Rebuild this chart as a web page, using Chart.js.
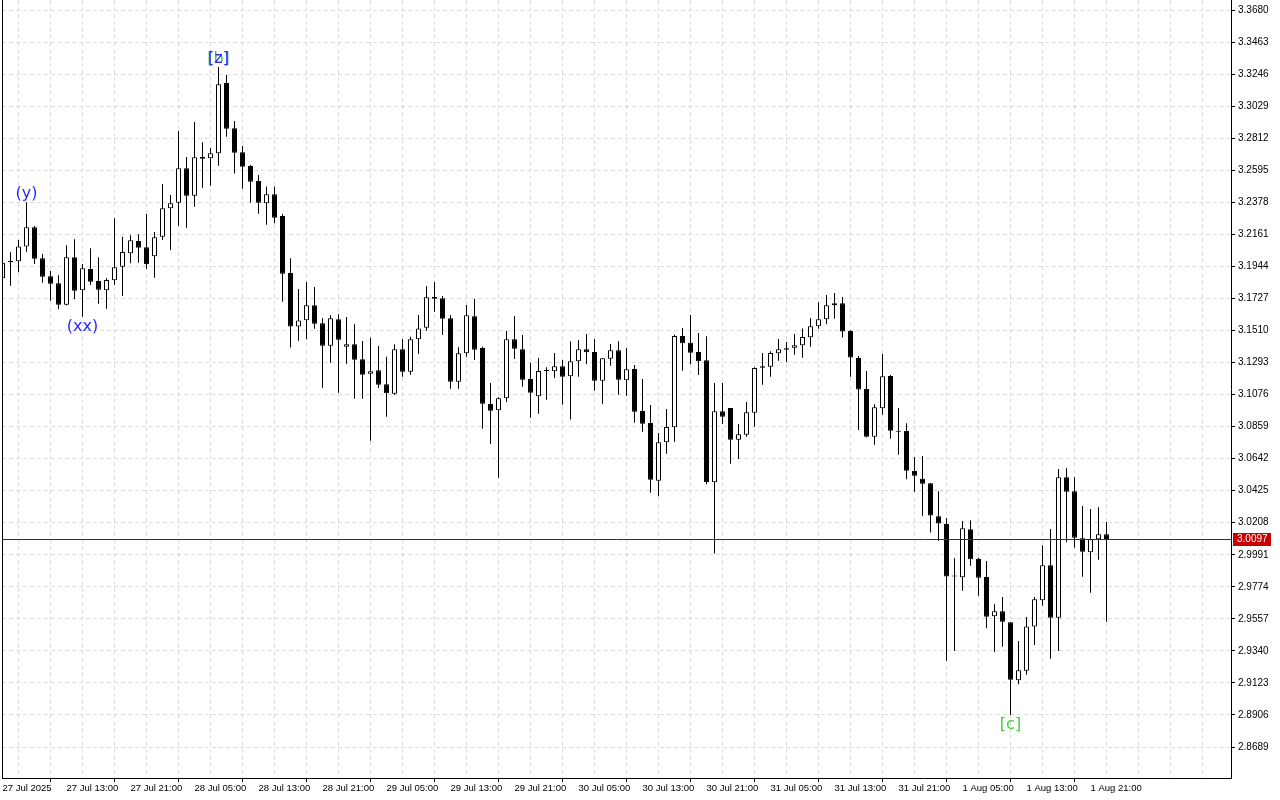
<!DOCTYPE html>
<html>
<head>
<meta charset="utf-8">
<script src="https://cdn.jsdelivr.net/npm/chart.js@4.4.1/dist/chart.umd.min.js"></script>
<style>
html,body{margin:0;padding:0;background:#ffffff;overflow:hidden;}
#wrap{width:1280px;height:800px;position:relative;}
</style>
</head>
<body>
<div id="wrap"><canvas id="c" width="1280" height="800"></canvas></div>
<script>
// ---- data (hourly candles) ----
const opens = [3.1863,3.1982,3.1978,3.2079,3.2209,3.1999,3.1877,3.1829,3.1684,3.2005,
3.1782,3.1926,3.1845,3.1782,3.1850,3.1942,3.2032,3.2116,3.2074,3.2012,
3.2145,3.2337,3.2374,3.2608,3.2422,3.2685,3.2676,3.2710,3.3186,3.2879,
3.2716,3.2624,3.2522,3.2371,3.2432,3.2285,3.1899,3.1537,3.1579,3.1680,
3.1558,3.1407,3.1586,3.1400,3.1416,3.1315,3.1217,3.1240,3.1145,3.1082,
3.1382,3.1231,3.1450,3.1528,3.1736,3.1728,3.1592,3.1163,3.1355,3.1606,
3.1391,3.1012,3.0969,3.1051,3.1450,3.1382,3.1181,3.1064,3.1235,3.1233,
3.1267,3.1199,3.1301,3.1382,3.1364,3.1170,3.1319,3.1376,3.1172,3.1249,
3.0964,3.0883,3.0493,3.0753,3.0854,3.1472,3.1427,3.1364,3.1308,3.0482,
3.0962,3.0985,3.0770,3.0804,3.0953,3.1267,3.1264,3.1355,3.1389,3.1393,
3.1409,3.1464,3.1538,3.1586,3.1680,3.1694,3.1506,3.1323,3.1113,3.0790,
3.0983,3.1202,3.0831,3.0829,3.0558,3.0506,3.0475,3.0252,3.0199,2.9846,
2.9838,3.0163,2.9962,2.9840,2.9574,2.9608,2.9534,2.9141,2.9206,2.9506,
2.9683,2.9920,2.9565,3.0516,3.0421,3.0102,3.0008,3.0096,3.0130];
const highs = [3.1987,3.2039,3.2122,3.2378,3.2217,3.2028,3.1912,3.1883,3.2087,3.2127,
3.1960,3.2066,3.2005,3.1863,3.2269,3.2145,3.2154,3.2162,3.2298,3.2177,
3.2502,3.2427,3.2861,3.2685,3.2921,3.2784,3.2745,3.3294,3.3240,3.2928,
3.2759,3.2630,3.2563,3.2484,3.2484,3.2298,3.1999,3.1791,3.1838,3.1804,
3.1592,3.1613,3.1619,3.1601,3.1552,3.1438,3.1461,3.1405,3.1332,3.1416,
3.1452,3.1468,3.1615,3.1810,3.1838,3.1743,3.1615,3.1396,3.1682,3.1723,
3.1400,3.1154,3.1057,3.1506,3.1608,3.1479,3.1292,3.1323,3.1260,3.1357,
3.1310,3.1435,3.1445,3.1486,3.1452,3.1321,3.1419,3.1436,3.1391,3.1276,
3.1181,3.1005,3.0815,3.0978,3.1481,3.1526,3.1615,3.1493,3.1470,3.1154,
3.1154,3.0985,3.0876,3.1025,3.1260,3.1357,3.1369,3.1452,3.1432,3.1486,
3.1524,3.1592,3.1701,3.1750,3.1764,3.1736,3.1511,3.1337,3.1235,3.1010,
3.1351,3.1208,3.0985,3.0881,3.0653,3.0660,3.0477,3.0421,3.0240,2.9967,
3.0220,3.0224,2.9971,2.9949,2.9656,2.9705,2.9534,2.9407,2.9569,2.9705,
3.0055,3.0165,3.0572,3.0576,3.0516,3.0321,3.0301,3.0312,3.0213];
const lows = [3.1818,3.1813,3.1904,3.2043,3.1960,3.1833,3.1711,3.1653,3.1679,3.1721,
3.1602,3.1818,3.1691,3.1657,3.1818,3.1743,3.1965,3.1969,3.1926,3.1867,
3.2122,3.2055,3.2219,3.2206,3.2348,3.2477,3.2490,3.2626,3.2822,3.2572,
3.2470,3.2374,3.2301,3.2226,3.2236,3.1705,3.1395,3.1441,3.1450,3.1522,
3.1122,3.1292,3.1088,3.1285,3.1048,3.1048,3.0763,3.1121,3.0926,3.1075,
3.1197,3.1210,3.1352,3.1508,3.1637,3.1479,3.1115,3.1115,3.1332,3.1310,
3.0845,3.0741,3.0513,3.1025,3.1317,3.1129,3.0919,3.0946,3.1041,3.1188,
3.1007,3.0907,3.1197,3.1281,3.1102,3.1014,3.1271,3.1075,3.1068,3.0885,
3.0824,3.0411,3.0387,3.0675,3.0757,3.1237,3.1281,3.1208,3.0468,2.9999,
3.0876,3.0607,3.0639,3.0790,3.0858,3.1143,3.1197,3.1305,3.1296,3.1346,
3.1325,3.1400,3.1522,3.1552,3.1590,3.1462,3.1197,3.0836,3.0785,3.0736,
3.0939,3.0777,3.0669,3.0502,3.0418,3.0255,3.0142,3.0086,2.9274,2.9339,
2.9748,2.9917,2.9714,2.9493,2.9333,2.9368,2.8906,2.9114,2.9179,2.9380,
2.9646,2.9287,2.9339,3.0075,3.0039,2.9842,2.9734,2.9958,2.9538];
const closes = [3.1969,3.1971,3.2079,3.2209,3.1996,3.1874,3.1826,3.1684,3.2005,3.1779,
3.1931,3.1840,3.1786,3.1852,3.1938,3.2041,3.2120,3.2070,3.1958,3.2141,
3.2337,3.2371,3.2608,3.2422,3.2683,3.2673,3.2710,3.3177,3.2876,3.2714,
3.2619,3.2517,3.2374,3.2432,3.2273,3.1894,3.1537,3.1577,3.1680,3.1556,
3.1407,3.1592,3.1447,3.1416,3.1312,3.1210,3.1233,3.1143,3.1084,3.1382,
3.1231,3.1450,3.1524,3.1734,3.1725,3.1590,3.1163,3.1355,3.1613,3.1380,
3.1014,3.0967,3.1051,3.1450,3.1386,3.1176,3.1088,3.1235,3.1237,3.1267,
3.1197,3.1302,3.1382,3.1362,3.1170,3.1321,3.1376,3.1176,3.1247,3.0960,
3.0878,3.0499,3.0753,3.0856,3.1472,3.1423,3.1359,3.1301,3.0484,3.0962,
3.0926,3.0770,3.0807,3.0956,3.1256,3.1258,3.1357,3.1382,3.1380,3.1409,
3.1466,3.1538,3.1586,3.1680,3.1694,3.1503,3.1327,3.1110,3.0790,3.0990,
3.1199,3.0831,3.0824,3.0560,3.0526,3.0472,3.0257,3.0203,2.9844,2.9843,
3.0170,2.9960,2.9836,2.9571,2.9608,2.9538,2.9145,2.9209,2.9506,2.9689,
2.9920,2.9565,3.0516,3.0418,3.0107,3.0012,3.0096,3.0130,3.0097];

// time labels shown on the axis, one every 8 bars
const timeLabels = ["27 Jul 2025","27 Jul 13:00","27 Jul 21:00","28 Jul 05:00","28 Jul 13:00",
"28 Jul 21:00","29 Jul 05:00","29 Jul 13:00","29 Jul 21:00","30 Jul 05:00","30 Jul 13:00",
"30 Jul 21:00","31 Jul 05:00","31 Jul 13:00","31 Jul 21:00","1 Aug 05:00","1 Aug 13:00","1 Aug 21:00"];
const barsPerLabel = 8;

// price scale tick labels
const priceTicks = [3.3680,3.3463,3.3246,3.3029,3.2812,3.2595,3.2378,3.2161,3.1944,3.1727,
3.1510,3.1293,3.1076,3.0859,3.0642,3.0425,3.0208,2.9991,2.9774,2.9557,2.9340,2.9123,2.8906,2.8689];

// wave labels: bar index, text, placed at the bar's high or low
const waveBars   = [3, 10, 27, 27, 126];
const waveTexts  = ['(y)', '(xx)', '[b]', '[z]', '[c]'];
const waveSides  = ['high', 'low', 'high', 'high', 'low'];
const waveColors = ['#2a2aff', '#2a2aff', '#3ccf3c', '#2a2aff', '#3ccf3c'];

// ---- build chart ----
const idx = opens.map((_, i) => i);
const wickData = idx.map(i => ({x: i, y: [lows[i], highs[i]]}));
const bodyData = idx.map(i => ({x: i, y: [opens[i], closes[i]]}));
const bodyFill = idx.map(i => (closes[i] - opens[i] > 0.0003) ? '#ffffff' : '#000000');

const AREA_LEFT = 2, AREA_RIGHT = 1231, AREA_BOTTOM = 778, PX_PER_BAR = 8;
const xMin = -0.0625;
const xMax = xMin + (AREA_RIGHT - AREA_LEFT) / PX_PER_BAR;
const yMax = 3.374772;
const yMin = 2.847926;

const overlay = {
  id: 'overlay',
  afterDatasetsDraw(chart) {
    const {ctx, scales: {x, y}, chartArea: a} = chart;
    ctx.save();
    const last = closes[closes.length - 1];
    const py = Math.round(y.getPixelForValue(last)) + 0.5;
    ctx.strokeStyle = '#a00000';
    ctx.lineWidth = 1;
    ctx.beginPath();
    ctx.moveTo(a.left, py);
    ctx.lineTo(a.right, py);
    ctx.stroke();

    ctx.font = '16px "DejaVu Sans", sans-serif';
    ctx.textAlign = 'center';
    ctx.textBaseline = 'middle';
    waveBars.forEach((b, k) => {
      const px = x.getPixelForValue(b);
      const hi = waveSides[k] === 'high';
      const v = hi ? highs[b] : lows[b];
      const yy = y.getPixelForValue(v) + (hi ? -8 : 10);
      ctx.fillStyle = waveColors[k];
      ctx.fillText(waveTexts[k], px, yy);
    });
    ctx.restore();
  },
  afterDraw(chart) {
    const {ctx, scales: {y}, chartArea: a} = chart;
    ctx.save();
    // left frame line
    ctx.strokeStyle = '#000';
    ctx.lineWidth = 1;
    ctx.beginPath();
    ctx.moveTo(a.left + 0.5, a.top);
    ctx.lineTo(a.left + 0.5, a.bottom);
    ctx.stroke();
    // current price tag
    const last = closes[closes.length - 1];
    const py = Math.round(y.getPixelForValue(last));
    ctx.fillStyle = '#c80000';
    ctx.fillRect(a.right + 2, py - 6, 38, 13);
    ctx.fillStyle = '#ffffff';
    ctx.font = '10px "Liberation Sans", Arial, sans-serif';
    ctx.textAlign = 'left';
    ctx.textBaseline = 'middle';
    ctx.fillText(last.toFixed(4), a.right + 6, py + 0.5);
    ctx.restore();
  }
};

Chart.defaults.font.family = '"Liberation Sans", Arial, sans-serif';
Chart.defaults.color = '#000';

new Chart(document.getElementById('c'), {
  type: 'bar',
  data: {
    datasets: [
      {
        label: 'wick', data: wickData, backgroundColor: '#000000',
        borderWidth: 0, grouped: false, maxBarThickness: 1, inflateAmount: 0, order: 2
      },
      {
        label: 'body', data: bodyData, backgroundColor: bodyFill, borderColor: '#000000',
        borderWidth: 1, borderSkipped: false, grouped: false, maxBarThickness: 5,
        minBarLength: 1, inflateAmount: 0, order: 1
      }
    ]
  },
  options: {
    responsive: false,
    devicePixelRatio: 1,
    animation: false,
    events: [],
    layout: {padding: {top: 0, left: AREA_LEFT, right: 0, bottom: 0}},
    plugins: {legend: {display: false}, tooltip: {enabled: false}},
    scales: {
      x: {
        type: 'linear', min: xMin, max: xMax, offset: false,
        afterBuildTicks: s => {
          const t = [];
          for (let v = 0; v <= xMax; v += barsPerLabel / 2) t.push({value: v});
          s.ticks = t;
        },
        afterFit: s => { s.height = 800 - AREA_BOTTOM; s.paddingLeft = 0; s.paddingRight = 0; },
        ticks: {
          autoSkip: false, maxRotation: 0, minRotation: 0, align: 'start', padding: 1, labelOffset: 0,
          font: {size: 9.5}, color: '#000',
          callback: v => (v % barsPerLabel === 0 && v / barsPerLabel < timeLabels.length) ? timeLabels[v / barsPerLabel] : ''
        },
        grid: {
          color: '#dcdcdc', lineWidth: 1, drawTicks: true, tickLength: 4,
          tickColor: c => (c.tick && c.tick.value % barsPerLabel === 0 && c.tick.value / barsPerLabel < timeLabels.length) ? '#000' : 'rgba(0,0,0,0)'
        },
        border: {display: true, color: '#000', width: 1, dash: [4, 3]}
      },
      y: {
        type: 'linear', position: 'right', min: yMin, max: yMax,
        afterBuildTicks: s => { s.ticks = priceTicks.map(v => ({value: v})); },
        afterFit: s => { s.width = 1280 - AREA_RIGHT; s.paddingTop = 0; s.paddingBottom = 0; },
        ticks: {autoSkip: false, padding: 3, font: {size: 10}, color: '#000', callback: v => Number(v).toFixed(4)},
        grid: {color: '#dcdcdc', lineWidth: 1, drawTicks: true, tickLength: 4, tickColor: '#000'},
        border: {display: true, color: '#000', width: 1, dash: [4, 3]}
      }
    }
  },
  plugins: [overlay]
});
</script>
</body>
</html>
